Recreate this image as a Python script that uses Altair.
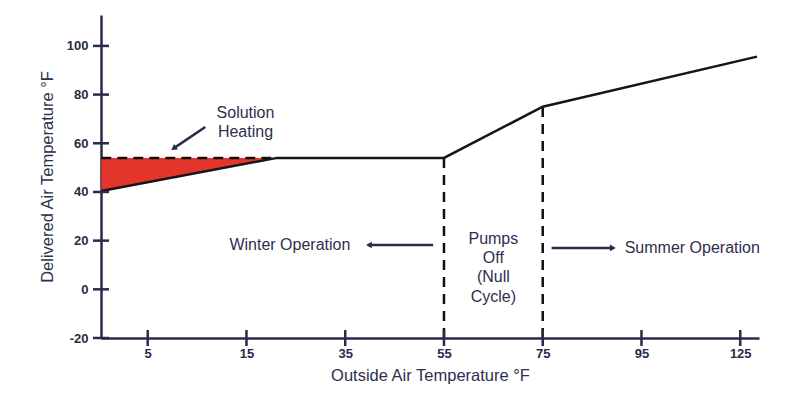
import altair as alt
import pandas as pd

# ---- data ----
x_tick_pos = [0, 1, 2, 3, 4, 5, 6]
x_tick_labels = ["5", "15", "35", "55", "75", "95", "125"]
y_ticks = [-20, 0, 20, 40, 60, 80, 100]

# delivered air temperature curve (x in tick-index units of the outside-air axis)
line_x = [-0.47, 1.31, 3.0, 4.0, 6.17]
line_y = [40.4, 54.0, 54.0, 75.0, 95.6]

# solution heating region
heat_x = [-0.47, 1.31]
heat_y = [40.4, 54.0]
heat_level = 54.0

# pumps-off boundaries (55 and 75 °F)
bound_x = [3.0, 4.0]
bound_top = [54.0, 75.0]
y_floor = -20

# annotations
center_text = ["Solution", "Heating", "Winter Operation", "Pumps", "Off", "(Null", "Cycle)"]
center_text_x = [0.99, 0.99, 1.44, 3.5, 3.5, 3.5, 3.5]
center_text_y = [72.5, 64.7, 18.2, 20.7, 12.9, 5.1, -3.1]
left_text = ["Summer Operation"]
left_text_x = [4.83]
left_text_y = [17.0]

arrow_x = [2.89, 4.09, 0.583]
arrow_x2 = [2.24, 4.71, 0.262]
arrow_y = [18.2, 17.0, 66.7]
arrow_y2 = [18.2, 17.0, 57.9]
arrow_shape = ["triangle-left", "triangle-right", "triangle-up"]
arrow_angle = [0, 0, 236]

NAVY = "#2b2a48"
TEXT = "#2f2e4e"
RED = "#e3352c"
FONT = "Liberation Sans"

xs = alt.Scale(domain=[-0.473, 6.19], nice=False, zero=False)
ys = alt.Scale(domain=[-20, 112.7], nice=False, zero=False)

label_expr = "[" + ",".join("'%s'" % l for l in x_tick_labels) + "][datum.value]"

xaxis = alt.Axis(values=x_tick_pos, labelExpr=label_expr, ticks=False, grid=False,
                 domainColor=NAVY, domainWidth=2.5, labelFont=FONT, labelFontWeight="bold",
                 labelFontSize=13, labelColor=NAVY, labelPadding=9,
                 title="Outside Air Temperature °F", titleFont=FONT, titleFontSize=16.5,
                 titleFontWeight="normal", titleColor=TEXT, titlePadding=7)
yaxis = alt.Axis(values=y_ticks, labelExpr="'' + datum.value", ticks=False, grid=False,
                 domainColor=NAVY, domainWidth=2.5, labelFont=FONT, labelFontWeight="bold",
                 labelFontSize=13, labelColor=NAVY, labelPadding=13,
                 title="Delivered Air Temperature °F", titleFont=FONT, titleFontSize=16.5,
                 titleFontWeight="normal", titleColor=TEXT, titlePadding=11)

X = alt.X("x:Q", scale=xs, axis=xaxis)
Y = alt.Y("y:Q", scale=ys, axis=yaxis)

line_df = pd.DataFrame({"x": line_x, "y": line_y})
heat_df = pd.DataFrame({"x": heat_x, "y": heat_y, "y2": [heat_level] * len(heat_x)})
hdash_df = pd.DataFrame({"x": [heat_x[0]], "x2": [heat_x[-1]], "y": [heat_level]})
vdash_df = pd.DataFrame({"x": bound_x, "y": [y_floor] * len(bound_x), "y2": bound_top})
xt_df = pd.DataFrame({"x": x_tick_pos})
yt_df = pd.DataFrame({"y": y_ticks})
ct_df = pd.DataFrame({"x": center_text_x, "y": center_text_y, "t": center_text})
lt_df = pd.DataFrame({"x": left_text_x, "y": left_text_y, "t": left_text})
ar_df = pd.DataFrame({"x": arrow_x, "x2": arrow_x2, "y": arrow_y, "y2": arrow_y2,
                      "shape": arrow_shape, "angle": arrow_angle})

area = alt.Chart(heat_df).mark_area(color=RED, opacity=1).encode(x=X, y=Y, y2="y2:Q")
hdash = alt.Chart(hdash_df).mark_rule(color="#111111", strokeWidth=2.5, strokeDash=[10, 6]).encode(
    x=X, x2="x2:Q", y=Y)
vdash = alt.Chart(vdash_df).mark_rule(color="#111111", strokeWidth=2.5, strokeDash=[10, 7]).encode(
    x=X, y=Y, y2="y2:Q")
line = alt.Chart(line_df).mark_line(color="#161616", strokeWidth=2.5).encode(x=X, y=Y)

xticks = alt.Chart(xt_df).mark_rule(color=NAVY, strokeWidth=2.5).encode(
    x=X, y=alt.value(315), y2=alt.value(331))
yticks = alt.Chart(yt_df).mark_rule(color=NAVY, strokeWidth=2.5).encode(
    y=Y, x=alt.value(-8), x2=alt.value(8))

ctext = alt.Chart(ct_df).mark_text(font=FONT, fontSize=16, color=TEXT, align="center",
                                   baseline="middle").encode(x=X, y=Y, text="t:N")
ltext = alt.Chart(lt_df).mark_text(font=FONT, fontSize=16, color=TEXT, align="left",
                                   baseline="middle").encode(x=X, y=Y, text="t:N")

arrows = alt.Chart(ar_df).mark_rule(color=NAVY, strokeWidth=2.5).encode(
    x=X, x2="x2:Q", y=Y, y2="y2:Q")
heads = alt.Chart(ar_df).mark_point(filled=True, color=NAVY, size=45, opacity=1).encode(
    x=alt.X("x2:Q", scale=xs, axis=xaxis), y=alt.Y("y2:Q", scale=ys, axis=yaxis),
    shape=alt.Shape("shape:N", scale=None), angle=alt.Angle("angle:Q", scale=None))

chart = alt.layer(area, hdash, vdash, line, xticks, yticks, arrows, heads, ctext, ltext).properties(
    width=658, height=323,
    autosize=alt.AutoSizeParams(type="none"),
    padding={"left": 101, "top": 15, "right": 44, "bottom": 62},
    background="white",
).configure_view(stroke=None)

chart.save("out.html", embed_options={"renderer": "svg", "actions": False})
